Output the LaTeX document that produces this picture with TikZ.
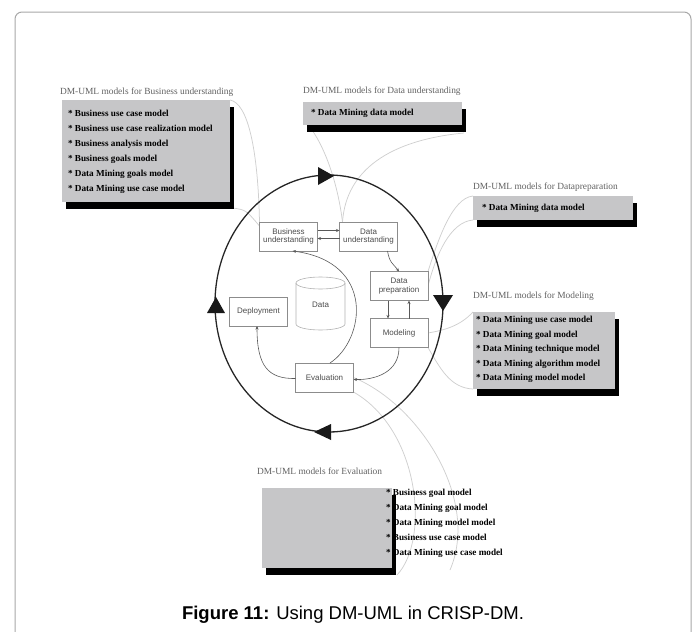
\documentclass[tikz,border=0pt]{standalone}
\usepackage{fontspec}
\setmainfont{Liberation Serif}
\setsansfont{Liberation Sans}
\usetikzlibrary{shadows,arrows.meta,backgrounds}

\definecolor{boxgray}{HTML}{C6C6C8}
\definecolor{leadgray}{HTML}{CFCFCF}
\definecolor{framegray}{HTML}{A8A8A8}

\begin{document}
\begin{tikzpicture}[x=1pt,y=-1pt,
  every node/.style={inner sep=0pt,outer sep=0pt},
  stage/.style={draw=black!45,fill=white,line width=0.6pt,align=center,
    font=\sffamily\fontsize{8}{8.6}\selectfont,text=black!70,
    minimum width=58pt,minimum height=29pt},
  modelbox/.style={fill=boxgray,anchor=north west,
    drop shadow={shadow xshift=4pt,shadow yshift=-7pt,fill=black,opacity=1}},
  boxtitle/.style={anchor=base west,text=black!62,
    font=\fontsize{9.4}{11}\selectfont},
  itemlist/.style={anchor=north west,align=left,
    font=\bfseries\fontsize{9.2}{15}\selectfont},
  flow/.style={draw=black!65,line width=0.6pt,-{Stealth[length=3.5pt,width=3pt]}},
  leader/.style={draw=leadgray,line width=0.75pt},
  ring/.style={draw=black!85,line width=1.3pt},
  cyclehead/.style={fill=black!90}]

\useasboundingbox (0,0) rectangle (697,632);
% outer frame, open at the bottom
\draw[framegray,line width=1pt,rounded corners=7pt]
  (15,632) -- (15,12) -- (691,12) -- (691,632);

% CRISP-DM stages
\node[stage] (bu)   at (288.5,236.5) {Business\\understanding};
\node[stage] (du)   at (368.5,236.5) {Data\\understanding};
\node[stage] (dp)   at (399,286)     {Data\\preparation};
\node[stage] (mod)  at (399,333)     {Modeling};
\node[stage] (dep)  at (258.5,311.5) {Deployment};
\node[stage] (eval) at (324.5,377.5) {Evaluation};

% DM-UML model boxes
\node[modelbox,minimum width=168pt,minimum height=102pt] (bubox)  at (62,100)  {};
\node[modelbox,minimum width=159pt,minimum height=23pt]  (dubox)  at (303,102) {};
\node[modelbox,minimum width=160pt,minimum height=24pt]  (dpbox)  at (473,196) {};
\node[modelbox,minimum width=142pt,minimum height=77pt]  (modbox) at (473,312) {};
\node[modelbox,minimum width=130pt,minimum height=80pt]  (evbox)  at (262,488) {};

\begin{scope}[on background layer]
% leader lines from the boxes to the stages
\draw[leader] (bubox.north east) .. controls (248,103) and (258,150) .. (bu.north west);
\draw[leader] ([xshift=3pt,yshift=-6pt]bubox.south east) .. controls (246,210) .. ([yshift=-4pt]bu.north west);
\draw[leader] ([xshift=9pt,yshift=-5pt]dubox.south west) .. controls (326,150) and (338,185) .. ([xshift=3pt]du.north west);
\draw[leader] ([xshift=2pt,yshift=-8pt]dubox.south east) .. controls (390,140) and (346,170) .. ([xshift=3pt]du.north west);
\draw[leader] (dpbox.north west) .. controls (452,198) and (438,240) .. (dp.north east);
\draw[leader] (dpbox.south west) .. controls (450,222) and (436,255) .. (dp.east);
\draw[leader] (modbox.north west) .. controls (460,326) and (445,330) .. (mod.east);
\draw[leader] (modbox.south west) .. controls (450,388) and (440,368) .. (mod.south east);
\draw[leader] (eval.south east) .. controls (420,430) and (430,540) .. ([xshift=5pt,yshift=-7pt]evbox.south east);
\draw[leader] (eval.east) .. controls (420,405) and (480,500) .. ([xshift=58pt,yshift=-2pt]evbox.south east);
% the CRISP-DM cycle
\draw[ring] (329,303.5) ellipse [x radius=114,y radius=128.5];
\fill[cyclehead] (318,167) -- (334,176) -- (318,185) -- cycle;
\fill[cyclehead] (433,295) -- (453,295) -- (443,311) -- cycle;
\fill[cyclehead] (331,424) -- (314,432) -- (331,440) -- cycle;
\fill[cyclehead] (207,313) -- (225,313) -- (216,297) -- cycle;
\end{scope}

% data store
\draw[black!30,line width=0.6pt,fill=white] (296,283) -- (296,324)
  arc[start angle=180,end angle=0,x radius=24.5,y radius=6] -- (345,283);
\draw[black!30,line width=0.6pt] (320.5,283) ellipse [x radius=24.5,y radius=6];
\node[font=\sffamily\fontsize{8}{9}\selectfont,text=black!70] (data) at (320.5,305) {Data};

% flow between stages
\draw[flow] ([yshift=6pt]bu.east) -- ([yshift=6pt]du.west);
\draw[flow] ([yshift=-2pt]du.west) -- ([yshift=-2pt]bu.east);
\draw[flow] ([xshift=19pt]du.south) .. controls +(2,12) and +(-6,-8) .. (dp.north);
\draw[flow] ([xshift=-11pt]dp.south) -- ([xshift=-11pt]mod.north);
\draw[flow] ([xshift=10pt]mod.north) -- ([xshift=10pt]dp.south);
\draw[flow] (mod.south) .. controls (399,372) and (376,380) .. ([yshift=-2pt]eval.east);
\draw[flow] ([xshift=5.5pt]eval.north) .. controls (365,340) and (376,262) .. ([xshift=33pt]bu.south west);
\draw[flow] ([yshift=-1pt]eval.west) .. controls (268,379) and (257,366) .. ([xshift=-1.5pt]dep.south);

% box titles
\node[boxtitle] (butitle)  at (60,94)  {DM-UML models for Business understanding};
\node[boxtitle] (dutitle)  at (303,93) {DM-UML models for Data understanding};
\node[boxtitle] (dptitle)  at (473,189) {DM-UML models for Datapreparation};
\node[boxtitle] (modtitle) at (473,298) {DM-UML models for Modeling};
\node[boxtitle] (evtitle)  at (257,474) {DM-UML models for Evaluation};

% box contents
\node[itemlist] (buitems) at (68,110) {%
  * Business use case model\\
  * Business use case realization model\\
  * Business analysis model\\
  * Business goals model\\
  * Data Mining goals model\\
  * Data Mining use case model};
\node[itemlist] (duitems) at (311,109.5) {* Data Mining data model};
\node[itemlist] (dpitems) at (482,204.5) {* Data Mining data model};
\node[itemlist,font=\bfseries\fontsize{9.2}{14.5}\selectfont] (moditems) at (476,316.5) {%
  * Data Mining use case model\\
  * Data Mining goal model\\
  * Data Mining technique model\\
  * Data Mining algorithm model\\
  * Data Mining model model};
\node[itemlist] (evitems) at (386,489.5) {%
  * Business goal model\\
  * Data Mining goal model\\
  * Data Mining model model\\
  * Business use case model\\
  * Data Mining use case model};

% caption
\node[anchor=base,font=\sffamily\fontsize{18.5}{21}\selectfont] (caption) at (353,619)
  {\textbf{Figure 11:} Using DM-UML in CRISP-DM.};
\end{tikzpicture}
\end{document}
